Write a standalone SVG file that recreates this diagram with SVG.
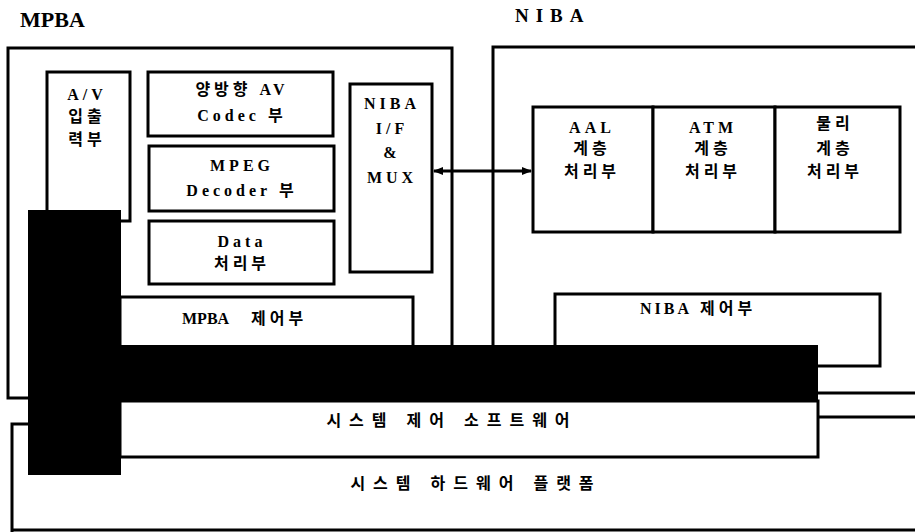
<svg xmlns="http://www.w3.org/2000/svg" width="915" height="532" viewBox="0 0 915 532">
<defs>
<style>
.box{fill:#fff;stroke:#000;stroke-width:3}
.ln{fill:none;stroke:#000;stroke-width:3}
.blk{fill:#000}
text{font-family:"Liberation Serif","Noto Sans CJK KR",serif;font-weight:bold;fill:#000;text-anchor:middle;font-size:16px;letter-spacing:4px}
.ttl{font-size:22px;letter-spacing:0;text-anchor:start}
.wide{letter-spacing:8px}
.st{text-anchor:start}
</style>
<marker id="ah" markerWidth="10" markerHeight="8" refX="9" refY="4" orient="auto-start-reverse" markerUnits="userSpaceOnUse">
<path d="M0,0 L10,4 L0,8 Z" fill="#000"/>
</marker>
</defs>
<rect width="915" height="532" fill="#fff"/>
<text class="ttl" x="20" y="27">MPBA</text>
<text class="ttl" x="515" y="22" style="font-size:19px;letter-spacing:7px">NIBA</text>

<g id="mpba-outer"><path class="ln" d="M28,398 H8 V48 H452 V346"/></g>
<g id="niba-outer"><path class="ln" d="M493,346 V47 H915 M818,393 H915"/></g>
<g id="hw-platform"><path class="ln" d="M28,424 H12 V532 M12,530 H915 M818,417 H915"/>
<text class="wide" x="476" y="489">시스템 하드웨어 플랫폼</text></g>

<g id="av-io"><rect class="box" x="47" y="72" width="83" height="149"/>
<text x="87" y="100">A/V</text><text x="87" y="122">입출</text><text x="87" y="145">력부</text></g>
<g id="codec"><rect class="box" x="148" y="72" width="185" height="64"/>
<text x="242" y="95">양방향 AV</text><text x="242" y="121">Codec 부</text></g>
<g id="mpeg"><rect class="box" x="149" y="146" width="185" height="65"/>
<text x="242" y="171">MPEG</text><text x="242" y="196">Decoder 부</text></g>
<g id="data"><rect class="box" x="149" y="221" width="185" height="63"/>
<text x="242" y="247">Data</text><text x="242" y="269">처리부</text></g>
<g id="niba-if"><rect class="box" x="350" y="84" width="82" height="188"/>
<text x="392" y="109">NIBA</text><text x="392" y="134">I/F</text><text x="392" y="158">&amp;</text><text x="392" y="183">MUX</text></g>

<g id="aal"><rect class="box" x="533" y="107" width="120" height="125"/>
<text x="592" y="133">AAL</text><text x="592" y="154">계층</text><text x="592" y="177">처리부</text></g>
<g id="atm"><rect class="box" x="653" y="107" width="122" height="125"/>
<text x="713" y="133">ATM</text><text x="713" y="154">계층</text><text x="713" y="177">처리부</text></g>
<g id="phy"><rect class="box" x="775" y="107" width="125" height="125"/>
<text x="835" y="129">물리</text><text x="835" y="154">계층</text><text x="835" y="177">처리부</text></g>

<g id="niba-ctrl"><rect class="box" x="555" y="294" width="325" height="72"/>
<text class="st" x="640" y="314"><tspan style="letter-spacing:3px">NIBA</tspan><tspan dx="8">제어부</tspan></text></g>
<g id="mpba-ctrl"><path class="box" d="M120,297 H413 V348 H120 Z"/>
<text class="st" x="182" y="324"><tspan style="letter-spacing:0">MPBA</tspan><tspan dx="22">제어부</tspan></text></g>

<g id="sys-sw"><rect class="box" x="120" y="401" width="698" height="56"/>
<text class="wide" x="452" y="426">시스템 제어 소프트웨어</text></g>

<g id="bus-h"><rect class="blk" x="118" y="345" width="700" height="57"/></g>
<g id="bus-v"><rect class="blk" x="28" y="210" width="93" height="265"/></g>

<g id="connectors">
<line x1="434" y1="171" x2="531" y2="171" stroke="#000" stroke-width="3" marker-start="url(#ah)" marker-end="url(#ah)"/>
</g>
</svg>
